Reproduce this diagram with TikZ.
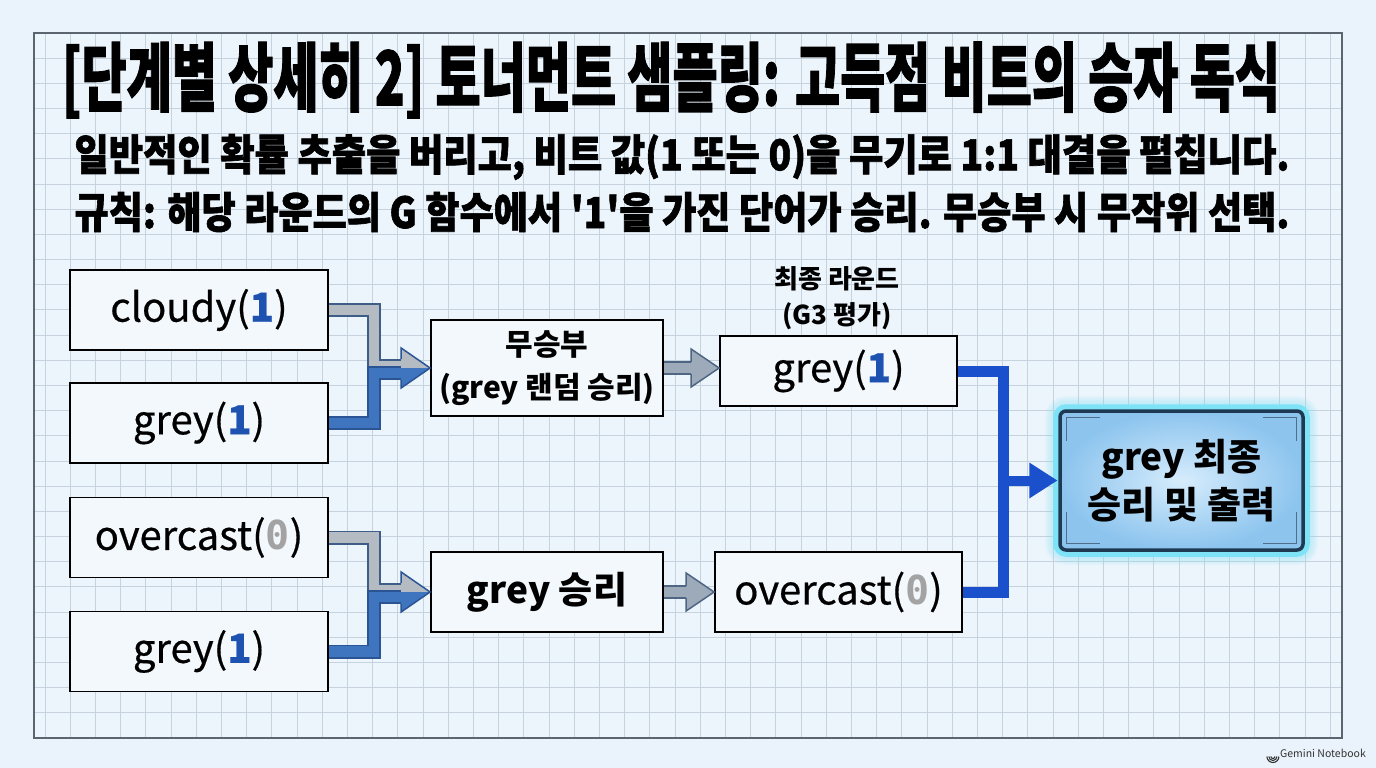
\documentclass[tikz,border=0pt]{standalone}
\usepackage{graphicx}
\usepackage{fontspec}
\setmainfont{Noto Sans CJK KR}
\newfontfamily\heavy{Noto Sans CJK KR}[BoldFeatures={FakeBold=1.6}]
\newfontfamily\medium{Noto Sans CJK KR}[FakeBold=0.5]
\newfontfamily\zerofont{DejaVu Sans Mono}
\usetikzlibrary{calc}
\definecolor{bgc}{HTML}{EAF3FB}
\definecolor{innerbg}{HTML}{EDF5FC}
\definecolor{gridc}{HTML}{C6D2DD}
\definecolor{framec}{HTML}{5A6570}
\definecolor{boxfill}{HTML}{F3F8FD}
\definecolor{onec}{HTML}{1E52B0}
\definecolor{zeroc}{HTML}{A3A3A3}
\definecolor{grayfill}{HTML}{B5BBC3}
\definecolor{grayedge}{HTML}{3E5E88}
\definecolor{bluefill}{HTML}{3F75BE}
\definecolor{blueedge}{HTML}{2B5494}
\definecolor{midfill}{HTML}{9DAABA}
\definecolor{midedge}{HTML}{4E6684}
\definecolor{finalblue}{HTML}{1B50CC}
\definecolor{glowc}{HTML}{7FE3F7}
\definecolor{finaledge}{HTML}{1E3A52}
\definecolor{finin}{HTML}{D6ECFC}
\definecolor{finout}{HTML}{8CC4EE}
\definecolor{bracketc}{HTML}{4D6F8C}
\definecolor{wmc}{HTML}{333333}
\newcommand{\one}{\textcolor{onec}{\bfseries 1}}
\newcommand{\zer}{\textcolor{zeroc}{\zerofont\bfseries 0}}
\pgfdeclarelayer{back}
\pgfdeclarelayer{glow}
\pgfsetlayers{back,glow,main}
\newcommand{\pairconn}[3]{%
  \coordinate (#3t) at (#3.west);
  \draw[grayedge, line width=14pt, line join=miter] (#1.east) -| ($(#3t)+(-56,-2)$) -- ($(#3t)+(-28,-2)$);
  \draw[grayfill, line width=10.5pt, line join=miter] (#1.east) -| ($(#3t)+(-56,-2)$) -- ($(#3t)+(-27,-2)$);
  \draw[blueedge, line width=14pt, line join=miter] (#2.east) -| ($(#3t)+(-56,5)$) -- ($(#3t)+(-28,5)$);
  \draw[bluefill, line width=10.5pt, line join=miter] (#2.east) -| ($(#3t)+(-56,5)$) -- ($(#3t)+(-27,5)$);
  \fill[grayfill] ($(#3t)+(-29,-20)$) -- (#3t) -- ($(#3t)+(-29,0)$) -- cycle;
  \fill[bluefill] ($(#3t)+(-29,0)$) -- (#3t) -- ($(#3t)+(-29,20)$) -- cycle;
  \draw[blueedge, line width=1.5pt, line join=miter] ($(#3t)+(-29,-9)$) -- ($(#3t)+(-29,-20)$) -- (#3t) -- ($(#3t)+(-29,20)$) -- ($(#3t)+(-29,12)$);
}
\newcommand{\midarrow}[2]{%
  \coordinate (#2t) at (#1.east -| #2.west);
  \draw[midedge, line width=14pt] (#1.east) -- ($(#2t)+(-27,0)$);
  \draw[midfill, line width=10.5pt] (#1.east) -- ($(#2t)+(-26,0)$);
  \fill[midfill] ($(#2t)+(-28,-19)$) -- (#2t) -- ($(#2t)+(-28,19)$) -- cycle;
  \draw[midedge, line width=1.5pt, line join=miter] ($(#2t)+(-28,-6)$) -- ($(#2t)+(-28,-19)$) -- (#2t) -- ($(#2t)+(-28,19)$) -- ($(#2t)+(-28,6)$);
}
\tikzset{
  leaf/.style={draw=black, line width=1.8pt, fill=boxfill, minimum width=258pt, minimum height=80pt, inner sep=0pt, font=\medium\fontsize{40}{44}\selectfont},
  midbox/.style={draw=black, line width=1.8pt, fill=boxfill, minimum width=232pt, inner sep=0pt, align=center},
  finbox/.style={draw=finaledge, line width=3.5pt, rounded corners=6pt, inner color=finin, outer color=finout, minimum width=243pt, minimum height=139pt, align=center, font=\fontsize{37}{48}\selectfont\bfseries},
  brk/.style={draw=bracketc, line width=1.3pt},
}
\begin{document}
\begin{tikzpicture}[x=1pt,y=-1pt]
\useasboundingbox (0,0) rectangle (1376,768);
\begin{pgfonlayer}{back}
\fill[bgc] (0,0) rectangle (1376,768);
\fill[innerbg] (34,33) rectangle (1342,738);
\begin{scope}
\clip (34,33) rectangle (1342,738);
\foreach \i in {0,...,51} \draw[gridc, line width=1pt] ({45+25.2*\i},33) -- ({45+25.2*\i},738);
\foreach \j in {1,...,27} \draw[gridc, line width=1pt] (34,{33+25.18*\j}) -- (1342,{33+25.18*\j});
\end{scope}
\draw[framec, line width=1.2pt] (34,33) rectangle (1342,738);
\end{pgfonlayer}

\node (title) at (671,80) {\resizebox{1218pt}{1.25\height}{\heavy\fontsize{60}{66}\selectfont\bfseries [단계별 상세히 2] 토너먼트 샘플링: 고득점 비트의 승자 독식}};
\node (sub1) at (682,157) {\resizebox{1215pt}{1.12\height}{\heavy\fontsize{38}{40}\selectfont\bfseries 일반적인 확률 추출을 버리고, 비트 값(1 또는 0)을 무기로 1:1 대결을 펼칩니다.}};
\node (sub2) at (682,212) {\resizebox{1215pt}{1.12\height}{\heavy\fontsize{38}{40}\selectfont\bfseries 규칙: 해당 라운드의 G 함수에서 \textquotesingle 1\textquotesingle 을 가진 단어가 승리. 무승부 시 무작위 선택.}};

\node[leaf] (c1) at (199,310) {cloudy(\one)};
\node[leaf] (c2) at (199,423) {grey(\one)};
\node[leaf] (c3) at (199,537.5) {overcast(\zer)};
\node[leaf] (c4) at (199,651.5) {grey(\one)};

\node[midbox, minimum height=96pt, font=\fontsize{30}{43}\selectfont\bfseries] (m1) at (547,368) {무승부\\(grey 랜덤 승리)};
\node[midbox, minimum height=80pt, font=\fontsize{37}{42}\selectfont\bfseries] (m2) at (547,592) {grey 승리};

\node[leaf, minimum width=237pt, minimum height=70pt] (f1) at (838.5,371) {grey(\one)};
\node[leaf, minimum width=247pt] (f2) at (838.5,592) {overcast(\zer)};
\node[align=center, font=\fontsize{26}{36}\selectfont\bfseries] (lbl) at (837,298) {최종 라운드\\(G3 평가)};

\node[finbox] (fin) at (1181.5,480.5) {grey 최종\\승리 및 출력};
\begin{pgfonlayer}{glow}
\foreach \k in {1,...,9} {\pgfmathsetmacro{\lw}{3*\k}
  \draw[glowc, opacity=0.08, line width=\lw pt, rounded corners=8pt] (fin.north west) rectangle (fin.south east);}
\draw[glowc, line width=10pt, rounded corners=8pt] (fin.north west) rectangle (fin.south east);
\end{pgfonlayer}
\draw[brk] ($(fin.north west)+(42,8)$) -- ($(fin.north west)+(8,8)$) -- ($(fin.north west)+(8,32)$);
\draw[brk] ($(fin.north east)+(-42,8)$) -- ($(fin.north east)+(-8,8)$) -- ($(fin.north east)+(-8,32)$);
\draw[brk] ($(fin.south west)+(42,-8)$) -- ($(fin.south west)+(8,-8)$) -- ($(fin.south west)+(8,-40)$);
\draw[brk] ($(fin.south east)+(-42,-8)$) -- ($(fin.south east)+(-8,-8)$) -- ($(fin.south east)+(-8,-40)$);

\pairconn{c1}{c2}{m1}
\pairconn{c3}{c4}{m2}
\midarrow{m1}{f1}
\midarrow{m2}{f2}

\coordinate (fj) at ($(fin.west)+(-55,0)$);
\draw[finalblue, line width=11pt, line join=miter] (f1.east) -| (fj) |- (f2.east);
\draw[finalblue, line width=10pt] (fj) -- ($(fin.west)+(-28,0)$);
\fill[finalblue] ($(fin.west)+(-29,-18)$) -- ($(fin.west)+(-1,0)$) -- ($(fin.west)+(-29,18)$) -- cycle;

\node[anchor=east, font=\fontsize{10.5}{12}\selectfont, text=wmc, inner sep=0pt] (wm) at (1366,753) {Gemini Notebook};
\coordinate (ic) at ($(wm.west)+(-7,3.5)$);
\foreach \r in {2,4,6} \draw[wmc, line width=1.1pt] ($(ic)+(-\r,0)$) arc[start angle=180, end angle=0, radius=\r];
\end{tikzpicture}
\end{document}
